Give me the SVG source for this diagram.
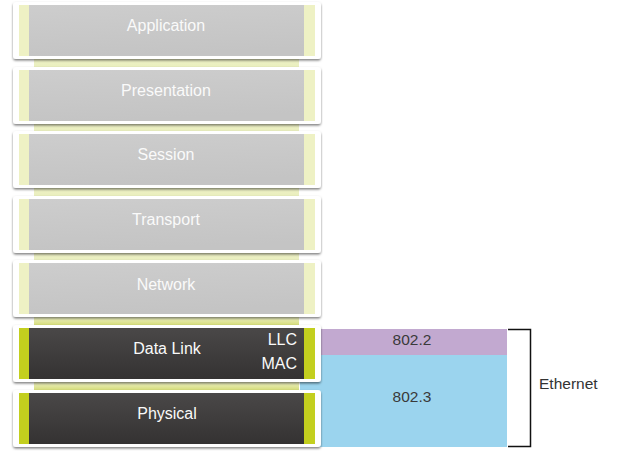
<svg xmlns="http://www.w3.org/2000/svg" width="629" height="467" viewBox="0 0 629 467">
<defs>
  <linearGradient id="gGray" x1="0" y1="0" x2="0.2" y2="1">
    <stop offset="0" stop-color="#cdcdcd"/>
    <stop offset="1" stop-color="#c4c4c4"/>
  </linearGradient>
  <linearGradient id="gDark" x1="0" y1="0" x2="0" y2="1">
    <stop offset="0" stop-color="#4a4848"/>
    <stop offset="1" stop-color="#343232"/>
  </linearGradient>
  <linearGradient id="gStripL" x1="0" y1="0" x2="0" y2="1">
    <stop offset="0" stop-color="#eef1c6"/>
    <stop offset="1" stop-color="#e8eebb"/>
  </linearGradient>
  <linearGradient id="gStripD" x1="0" y1="0" x2="0" y2="1">
    <stop offset="0" stop-color="#eef1c6"/>
    <stop offset="1" stop-color="#cfd767"/>
  </linearGradient>
  <filter id="sh" x="-5%" y="-10%" width="110%" height="130%">
    <feDropShadow dx="0" dy="1.5" stdDeviation="1.2" flood-color="#000" flood-opacity="0.5"/>
  </filter>
</defs>
<style>
  .card{fill:#fff;filter:url(#sh)}
  .lt{fill:#eef1c4}
  .dk{fill:#c3cf1e}
  .inG{fill:url(#gGray)}
  .inD{fill:url(#gDark)}
  .lbl{font-family:"Liberation Sans",Arial,sans-serif;font-size:16px;fill:#fafafa;text-anchor:middle}
  .lblR{font-family:"Liberation Sans",Arial,sans-serif;font-size:16px;fill:#fafafa;text-anchor:end}
  .std{font-family:"Liberation Sans",Arial,sans-serif;font-size:15.5px;fill:#3a3a3a;text-anchor:middle}
  .eth{font-family:"Liberation Sans",Arial,sans-serif;font-size:15.5px;fill:#333}
</style>

<g id="standards">
  <rect x="300" y="329" width="207" height="26" fill="#c2a9d0"/>
  <rect x="300" y="355" width="207" height="92" fill="#9bd4ee"/>
  <text class="std" x="412" y="345">802.2</text>
  <text class="std" x="412" y="402">802.3</text>
</g>

<g id="connectors">
  <rect x="34" y="59" width="265" height="10" fill="url(#gStripL)"/>
  <rect x="34" y="124" width="265" height="10" fill="url(#gStripL)"/>
  <rect x="34" y="188" width="265" height="10" fill="url(#gStripL)"/>
  <rect x="34" y="253" width="265" height="10" fill="url(#gStripL)"/>
  <rect x="34" y="317" width="265" height="10" fill="url(#gStripD)"/>
  <rect x="34" y="382" width="265" height="10" fill="url(#gStripD)"/>
</g>

<g id="application">
  <rect class="card" x="13" y="2" width="308" height="57" rx="3"/>
  <rect class="lt" x="19" y="5" width="286" height="51"/>
  <rect class="lt" x="304" y="5" width="11" height="51"/>
  <rect class="inG" x="29" y="5" width="275" height="51"/>
  <text class="lbl" x="166" y="31">Application</text>
</g>
<g id="presentation">
  <rect class="card" x="13" y="67" width="308" height="57" rx="3"/>
  <rect class="lt" x="19" y="70" width="286" height="51"/>
  <rect class="lt" x="304" y="70" width="11" height="51"/>
  <rect class="inG" x="29" y="70" width="275" height="51"/>
  <text class="lbl" x="166" y="96">Presentation</text>
</g>
<g id="session">
  <rect class="card" x="13" y="131" width="308" height="57" rx="3"/>
  <rect class="lt" x="19" y="134" width="286" height="51"/>
  <rect class="lt" x="304" y="134" width="11" height="51"/>
  <rect class="inG" x="29" y="134" width="275" height="51"/>
  <text class="lbl" x="166" y="160">Session</text>
</g>
<g id="transport">
  <rect class="card" x="13" y="196" width="308" height="57" rx="3"/>
  <rect class="lt" x="19" y="199" width="286" height="51"/>
  <rect class="lt" x="304" y="199" width="11" height="51"/>
  <rect class="inG" x="29" y="199" width="275" height="51"/>
  <text class="lbl" x="166" y="225">Transport</text>
</g>
<g id="network">
  <rect class="card" x="13" y="260" width="308" height="57" rx="3"/>
  <rect class="lt" x="19" y="263" width="286" height="51"/>
  <rect class="lt" x="304" y="263" width="11" height="51"/>
  <rect class="inG" x="29" y="263" width="275" height="51"/>
  <text class="lbl" x="166" y="290">Network</text>
</g>
<g id="datalink">
  <rect class="card" x="13" y="325" width="308" height="57" rx="3"/>
  <rect class="dk" x="19" y="328" width="286" height="51"/>
  <rect class="dk" x="304" y="328" width="11" height="51"/>
  <rect class="inD" x="29" y="328" width="275" height="51"/>
  <text class="lbl" x="167" y="354">Data Link</text>
  <text class="lblR" x="297" y="345">LLC</text>
  <text class="lblR" x="297" y="369">MAC</text>
</g>
<g id="physical">
  <rect class="card" x="13" y="390" width="308" height="57" rx="3"/>
  <rect class="dk" x="19" y="393" width="286" height="51"/>
  <rect class="dk" x="304" y="393" width="11" height="51"/>
  <rect class="inD" x="29" y="393" width="275" height="51"/>
  <text class="lbl" x="167" y="419">Physical</text>
</g>

<g id="ethernet">
  <path d="M508 329.5 H530.5 V446.5 H508" fill="none" stroke="#111" stroke-width="1.5"/>
  <text class="eth" x="539" y="389">Ethernet</text>
</g>
</svg>
